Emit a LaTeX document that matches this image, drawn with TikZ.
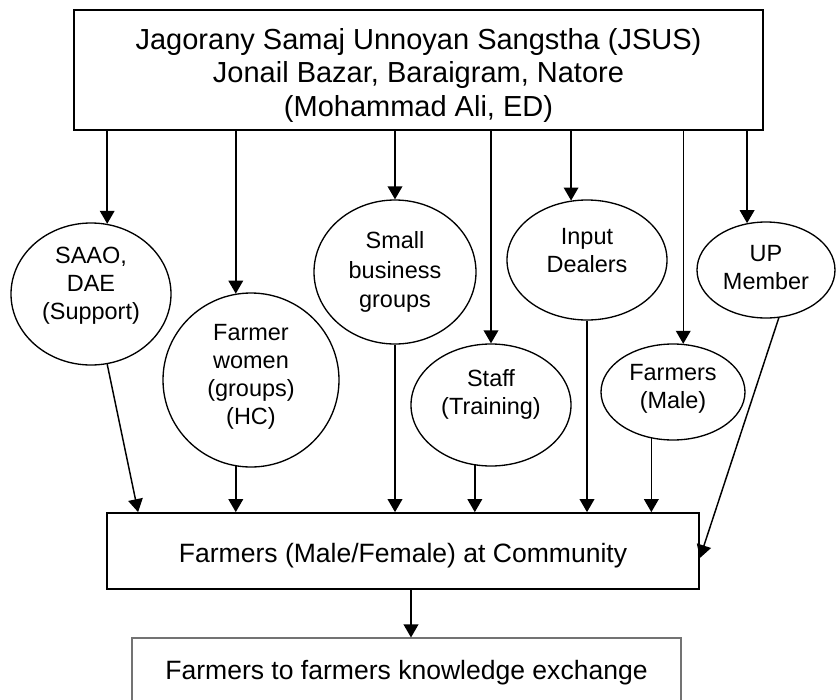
\documentclass[tikz,border=0pt]{standalone}
\usepackage{fontspec}
\setmainfont{Liberation Sans}
\usetikzlibrary{arrows.meta,shapes.geometric,calc}

\begin{document}
\begin{tikzpicture}[x=0.75pt, y=-0.75pt,
  org/.style={draw, line width=1.3pt, inner sep=0pt},
  actor/.style={draw, ellipse, line width=1pt, inner sep=0pt},
  tag/.style={align=center, inner sep=0pt, font=\fontsize{17.6}{21}\selectfont},
  flow/.style={-{Triangle[length=9.75pt, width=11pt]}, line width=1.1pt}]
\useasboundingbox (0,0) rectangle (836,700);
\node[org, minimum width=516.75pt, minimum height=90pt,
  label={[tag, font=\fontsize{21.75}{25}\selectfont, yshift=-4pt]center:{Jagorany Samaj Unnoyan Sangstha (JSUS)\\Jonail Bazar, Baraigram, Natore\\(Mohammad Ali, ED)}}] (jsus) at (418.5,70) {};

\node[actor, minimum width=120pt, minimum height=106.5pt, label={[tag, yshift=6pt]center:{SAAO,\\DAE\\(Support)}}] (saao) at (91,294) {};
\node[actor, minimum width=132pt, minimum height=130.5pt, label={[tag, yshift=2.5pt]center:{Farmer\\women\\(groups)\\(HC)}}] (women) at (251,380) {};
\node[actor, minimum width=121.5pt, minimum height=108pt, label={[tag, font=\fontsize{17.6}{22}\selectfont]center:{Small\\business\\groups}}] (small) at (395,272) {};
\node[actor, minimum width=120pt, minimum height=91.5pt, label={[tag, yshift=8pt]center:{Staff\\(Training)}}] (staff) at (491,405) {};
\node[actor, minimum width=120pt, minimum height=90pt, label={[tag, yshift=7pt]center:{Input\\Dealers}}] (input) at (587,260) {};
\node[actor, minimum width=108pt, minimum height=72pt, label={[tag, yshift=2pt]center:{Farmers\\(Male)}}] (male) at (673,392) {};
\node[actor, minimum width=103.5pt, minimum height=72pt, label={[tag, yshift=2pt]center:{UP\\Member}}] (upm) at (766,270) {};

\node[org, minimum width=444pt, minimum height=57pt,
  label={[tag, font=\fontsize{19.9}{23}\selectfont, yshift=-3.5pt]center:Farmers (Male/Female) at Community}] (comm) at (403,551) {};
\node[org, draw=black!55, line width=0.8pt, minimum width=411.75pt, minimum height=48pt,
  label={[tag, font=\fontsize{19.9}{23}\selectfont, yshift=-2pt]center:Farmers to farmers knowledge exchange}] (exch) at (406.5,670) {};

\draw[flow] (saao.77 |- jsus.south) -- (saao.77);
\draw[flow] (women.100 |- jsus.south) -- (women.100);
\draw[flow] (small.north |- jsus.south) -- (small.north);
\draw[flow] (staff.north |- jsus.south) -- (staff.north);
\draw[flow] (input.105 |- jsus.south) -- (input.105);
\draw[flow] (male.78 |- jsus.south) -- (male.78);
\draw[flow] (upm.112 |- jsus.south) -- (upm.112);

\coordinate (saaoin) at ($(comm.north west)+(32,0)$);
\coordinate (upmin) at ($(comm.east)+(0,7)$);
\coordinate (down) at ($(comm.south)+(8,0)$);
\draw[flow] (saao.283) -- (saaoin);
\draw[flow] (women.260) -- (women.260 |- comm.north);
\draw[flow] (small.south) -- (small.south |- comm.north);
\draw[flow] (staff.255) -- (staff.255 |- comm.north);
\draw[flow] (input.south) -- (input.south |- comm.north);
\draw[flow] (male.245) -- (male.245 |- comm.north);
\draw[flow] (upm.285) -- (upmin);
\draw[flow] (down) -- (down |- exch.north);
\end{tikzpicture}
\end{document}
